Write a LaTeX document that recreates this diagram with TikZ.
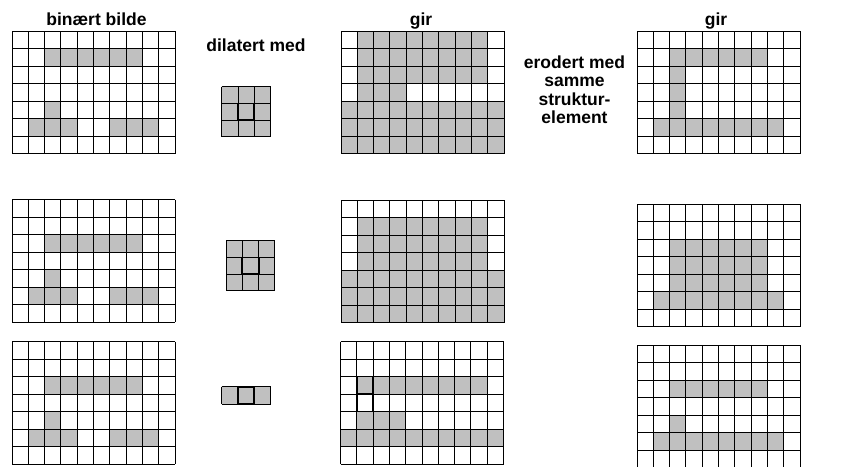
\documentclass[tikz,border=0pt]{standalone}
\usepackage{fontspec}
\setmainfont{Liberation Sans}
\definecolor{cellgray}{HTML}{C0C0C0}
\tikzset{
  gridline/.style={draw=black, line width=0.9pt},
  thickcell/.style={draw=black, line width=1.8pt},
  labelfont/.style={font=\fontsize{17.5}{18.5}\selectfont\bfseries, inner sep=0pt},
  label/.style={labelfont, anchor=base},
}
% #1 x, #2 y (top), #3 columns, #4 rows, #5 cell height, #6 gray runs row/firstcol/lastcol
\newcommand\cellgrid[6]{%
  \foreach \rr/\ca/\cb in {#6}{%
    \fill[cellgray] ({#1+\ca*16.3},{#2+\rr*#5}) rectangle ({#1+(\cb+1)*16.3},{#2+(\rr+1)*#5});}
  \foreach \ii in {0,...,#3}{%
    \draw[gridline] ({#1+\ii*16.3},#2) -- ({#1+\ii*16.3},{#2+#4*#5});}
  \foreach \jj in {0,...,#4}{%
    \draw[gridline] (#1,{#2+\jj*#5}) -- ({#1+#3*16.3},{#2+\jj*#5});}
}
\begin{document}
\begin{tikzpicture}[x=1pt,y=-1pt]
\useasboundingbox (0,0) rectangle (865,466);
\fill[white] (0,0) rectangle (865,466);

% titles
\node[label] (t1) at (96.5,25) {binært bilde};
\node[label] (t2) at (421,25) {gir};
\node[label] (t3) at (716,25) {gir};
\node[label] (t4) at (256,51) {dilatert med};
\node[labelfont, align=center, anchor=north] (t5) at (574.5,55.5)
  {erodert med\\samme\\struktur-\\element};

% row 1
\cellgrid{12}{31}{10}{7}{17.5}{1/2/7, 4/2/2, 5/1/3, 5/6/8}
\cellgrid{221.7}{86.7}{3}{3}{16.7}{0/0/2, 1/0/2, 2/0/2}
\draw[thickcell] (221.7+16.3,86.7+16.7) rectangle ++(16.3,16.7);
\cellgrid{341}{31}{10}{7}{17.5}{0/1/8, 1/1/8, 2/1/8, 3/1/3, 4/0/9, 5/0/9, 6/0/9}
\cellgrid{637}{31}{10}{7}{17.5}{1/2/7, 2/2/2, 3/2/2, 4/2/2, 5/1/8}

% row 2
\cellgrid{12}{199.5}{10}{7}{17.5}{2/2/7, 4/2/2, 5/1/3, 5/6/8}
\cellgrid{226}{240.7}{3}{3}{16.7}{0/0/2, 1/0/2, 2/0/2}
\draw[thickcell] (226+16.3,240.7+16.7) rectangle ++(16.3,16.7);
\cellgrid{341}{200}{10}{7}{17.5}{1/1/8, 2/1/8, 3/1/8, 4/0/9, 5/0/9, 6/0/9}
\cellgrid{637}{204}{10}{7}{17.5}{2/2/7, 3/2/7, 4/2/7, 5/1/8}

% row 3
\cellgrid{12}{341.5}{10}{7}{17.5}{2/2/7, 4/2/2, 5/1/3, 5/6/8}
\cellgrid{221.7}{386.7}{3}{1}{17.5}{0/0/2}
\draw[thickcell] (221.7+16.3,386.7) rectangle ++(16.3,17.5);
\cellgrid{340.5}{341.5}{10}{7}{17.5}{2/1/8, 4/1/3, 5/0/9}
\draw[thickcell] (340.5+16.3,341.5+35) rectangle ++(16.3,17.5);
\draw[thickcell] (340.5+16.3,341.5+52.5) rectangle ++(16.3,17.5);
\cellgrid{637}{345}{10}{7}{17.5}{2/2/7, 4/2/2, 5/1/8}
\end{tikzpicture}
\end{document}
